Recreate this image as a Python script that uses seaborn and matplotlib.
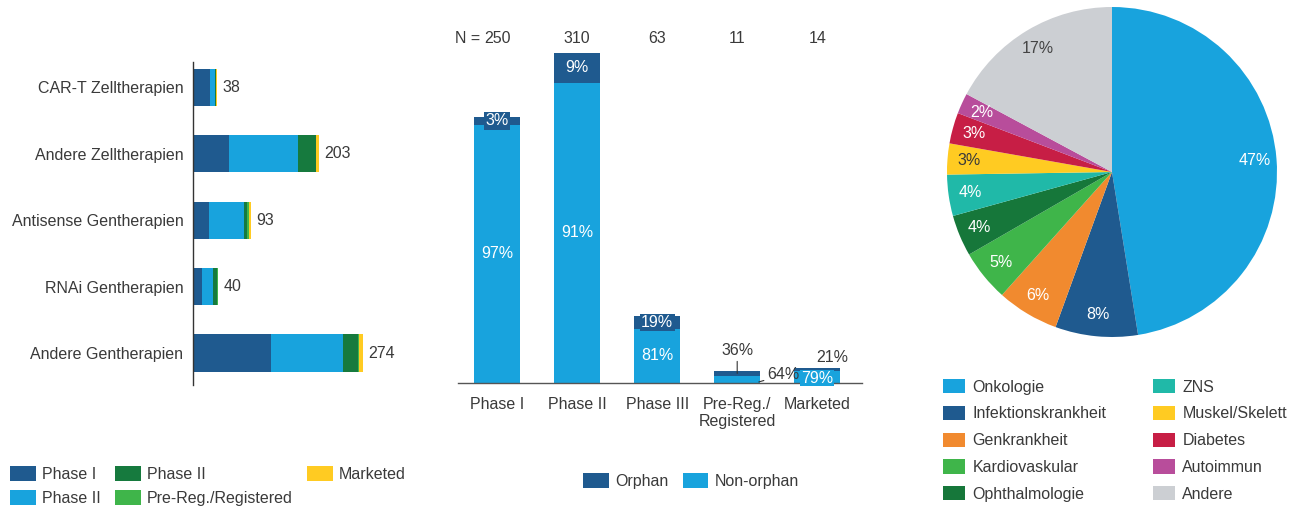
import numpy as np
import pandas as pd
import matplotlib
matplotlib.use("Agg")
import matplotlib.pyplot as plt
import seaborn as sns
from matplotlib.patches import Patch

# ---------------- data ----------------
therapies = ["CAR-T Zelltherapien", "Andere Zelltherapien", "Antisense Gentherapien",
             "RNAi Gentherapien", "Andere Gentherapien"]
phase1 = [27, 58, 26, 15, 125]
phase2 = [9, 112, 56, 17, 116]
phase3 = [1, 29, 5, 7, 25]
prereg = [0, 0, 3, 1, 2]
marketed = [1, 4, 3, 0, 6]
totals = [38, 203, 93, 40, 274]
stage_labels = ["Phase I", "Phase II", "Phase II", "Pre-Reg./Registered", "Marketed"]

phases = ["Phase I", "Phase II", "Phase III", "Pre-Reg./\nRegistered", "Marketed"]
n_total = [250, 310, 63, 11, 14]
orphan_pct = [3, 9, 19, 36, 21]
nonorphan_pct = [97, 91, 81, 64, 79]

areas = ["Onkologie", "Infektionskrankheit", "Genkrankheit", "Kardiovaskular",
         "Ophthalmologie", "ZNS", "Muskel/Skelett", "Diabetes", "Autoimmun", "Andere"]
shares = [47, 8, 6, 5, 4, 4, 3, 3, 2, 17]

# ---------------- style ----------------
DARK = "#1F5A8F"
LIGHT = "#18A3DD"
DGREEN = "#167A3E"
LGREEN = "#3FB54A"
YELLOW = "#FFCB22"
TXT = "#3A3A3A"
stage_colors = [DARK, LIGHT, DGREEN, LGREEN, YELLOW]
pie_colors = ["#18A3DD", "#1F5A8F", "#F18A2F", "#3FB54A", "#16773A",
              "#20B9A8", "#FFCB22", "#C71E45", "#B84D9B", "#CCCFD3"]
pie_txt = ["white", "white", "white", "white", "white", "white", TXT, "white", "white", "#444444"]

sns.set_theme(style="white")
plt.rcParams["font.family"] = ["Liberation Sans", "DejaVu Sans"]
plt.rcParams["text.color"] = TXT
FS = 11.5

fig = plt.figure(figsize=(12.9, 5.07), dpi=100)

# ---------------- left: stacked horizontal bars ----------------
ax1 = fig.add_axes([193 / 1290, 1 - 385 / 507, 250 / 1290, 323 / 507])
stages = [phase1, phase2, phase3, prereg, marketed]
cum = np.cumsum(np.array(stages), axis=0)
for k in range(len(stages) - 1, -1, -1):
    sns.barplot(x=cum[k], y=therapies, orient="h", color=stage_colors[k],
                saturation=1, width=0.56, linewidth=0, ax=ax1)
for i, t in enumerate(totals):
    ax1.annotate(str(t), xy=(t, i), xytext=(4, 0), textcoords="offset points",
                 ha="left", va="center", fontsize=FS, color=TXT)
ax1.set_xlim(0, 403)
ax1.set_ylim(4.48, -0.38)
ax1.set_xlabel("")
ax1.set_ylabel("")
ax1.set_xticks([])
ax1.tick_params(axis="y", length=0, pad=7, labelsize=FS, labelcolor=TXT)
for s in ["top", "right", "bottom"]:
    ax1.spines[s].set_visible(False)
ax1.spines["left"].set_color("#333333")
ax1.spines["left"].set_linewidth(1.0)

handles1 = [Patch(facecolor=c, edgecolor="none", label=l) for c, l in zip(stage_colors, stage_labels)]
fig.legend(handles=handles1, loc="upper left", bbox_to_anchor=(10 / 1290, 1 - 466 / 507),
           ncol=3, frameon=False, fontsize=FS, handlelength=1.6, handleheight=1.05,
           handletextpad=0.4, columnspacing=0.9, labelspacing=0.5, borderaxespad=0,
           borderpad=0)

# ---------------- middle: orphan / non-orphan ----------------
ax2 = fig.add_axes([458 / 1290, 1 - 383 / 507, 404 / 1290, 362 / 507])
non_counts = [n * p / 100 for n, p in zip(n_total, nonorphan_pct)]
sns.barplot(x=phases, y=n_total, color=DARK, saturation=1, width=0.57, linewidth=0, ax=ax2)
sns.barplot(x=phases, y=non_counts, color=LIGHT, saturation=1, width=0.57, linewidth=0, ax=ax2)
ax2.set_xlim(-0.49, 4.56)
ax2.set_ylim(0, 340)
ax2.set_yticks([])
ax2.set_xlabel("")
ax2.set_ylabel("")
ax2.tick_params(axis="x", length=0, pad=10, labelsize=FS, labelcolor=TXT)
for s in ["top", "right", "left"]:
    ax2.spines[s].set_visible(False)
ax2.spines["bottom"].set_color("#555555")
ax2.spines["bottom"].set_linewidth(1.0)

# N labels
for i, n in enumerate(n_total):
    ax2.text(i, 324, str(n), ha="center", va="center", fontsize=FS, color=TXT)
ax2.annotate("N = ", xy=(0, 324), xytext=(-9, 0), textcoords="offset points",
             ha="right", va="center", fontsize=FS, color=TXT)

# big bars: labels inside
for i in range(3):
    top = n_total[i]
    nb = non_counts[i]
    ax2.text(i, nb / 2, f"{nonorphan_pct[i]}%", ha="center", va="center", fontsize=FS, color="white")
    box = None
    if i != 1:
        box = dict(boxstyle="square,pad=0.08", fc=DARK, ec="none")
    ax2.text(i, (top + nb) / 2, f"{orphan_pct[i]}%", ha="center", va="center",
             fontsize=FS, color="white", bbox=box)

# Pre-Reg./Registered
i = 3
ax2.annotate(f"{orphan_pct[i]}%", xy=(i, (n_total[i] + non_counts[i]) / 2), xytext=(0, 11),
             textcoords="offset points", ha="center", va="bottom", fontsize=FS, color=TXT,
             arrowprops=dict(arrowstyle="-", color="#333333", lw=0.8, shrinkA=0, shrinkB=0))
ax2.annotate(f"{nonorphan_pct[i]}%", xy=(i + 0.27, 1.0), xytext=(6, 5),
             textcoords="offset points", ha="left", va="center", fontsize=FS, color=TXT,
             arrowprops=dict(arrowstyle="-", color="#333333", lw=0.8, shrinkA=0, shrinkB=0))
# Marketed
i = 4
ax2.annotate(f"{orphan_pct[i]}%", xy=(i, n_total[i]), xytext=(11, 2),
             textcoords="offset points", ha="center", va="bottom", fontsize=FS, color=TXT)
ax2.text(i, non_counts[i] / 2 - 1, f"{nonorphan_pct[i]}%", ha="center", va="center",
         fontsize=FS, color="white", bbox=dict(boxstyle="square,pad=0.05", fc=LIGHT, ec="none"))

handles2 = [Patch(facecolor=DARK, edgecolor="none", label="Orphan"),
            Patch(facecolor=LIGHT, edgecolor="none", label="Non-orphan")]
fig.legend(handles=handles2, loc="center", bbox_to_anchor=(691 / 1290, 1 - 481 / 507),
           ncol=2, frameon=False, fontsize=FS, handlelength=1.6, handleheight=1.05,
           handletextpad=0.4, columnspacing=0.9, borderaxespad=0, borderpad=0)

# ---------------- right: pie ----------------
ax3 = fig.add_axes([(1112 - 165) / 1290, 1 - (172 + 165) / 507, 330 / 1290, 330 / 507])
wedges, _ = ax3.pie(shares, colors=pie_colors, startangle=90, counterclock=False,
                    radius=1, wedgeprops=dict(linewidth=0))
for w, s, tc in zip(wedges, shares, pie_txt):
    ang = np.deg2rad((w.theta1 + w.theta2) / 2)
    r = 0.87
    ax3.text(r * np.cos(ang), r * np.sin(ang), f"{s}%", ha="center", va="center",
             fontsize=FS, color=tc)
ax3.set_xlim(-1, 1)
ax3.set_ylim(-1, 1)
ax3.set_aspect("equal")

handles3 = [Patch(facecolor=c, edgecolor="none", label=l) for c, l in zip(pie_colors, areas)]
fig.legend(handles=handles3, loc="upper left", bbox_to_anchor=(943 / 1290, 1 - 379 / 507),
           ncol=2, frameon=False, fontsize=FS, handlelength=1.4, handleheight=1.0,
           handletextpad=0.45, columnspacing=2.9, labelspacing=0.7, borderaxespad=0,
           borderpad=0)

fig.savefig("out.png", dpi=100)
